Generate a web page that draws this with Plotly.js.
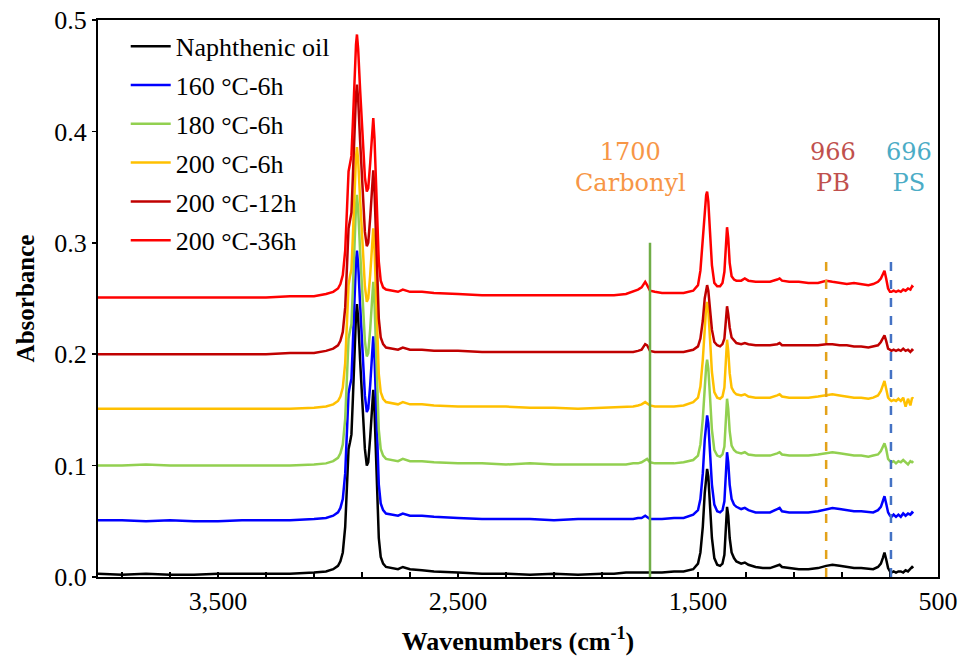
<!DOCTYPE html>
<html>
<head>
<meta charset="utf-8">
<script src="https://cdn.plot.ly/plotly-3.0.1.min.js"></script>
<style>html,body{margin:0;padding:0;background:#fff;}#chart{width:960px;height:661px;}</style>
</head>
<body>
<div id="chart"></div>
<script>
// Wavenumbers (cm-1)
const wavenumbers = [4000,3900,3800,3700,3600,3500,3400,3300,3200,3100,3050,3020,3000,2990,2980,2970,2962,2956,2950,2944,2938,2930,2925,2921,2916,2908,2898,2888,2880,2874,2866,2858,2853,2848,2842,2836,2830,2822,2812,2800,2780,2750,2730,2715,2700,2650,2600,2500,2400,2300,2200,2100,2000,1900,1850,1800,1770,1750,1735,1720,1712,1700,1680,1650,1600,1560,1520,1500,1490,1480,1472,1466,1462,1457,1450,1442,1432,1420,1408,1398,1390,1384,1379,1374,1368,1360,1350,1340,1320,1305,1290,1260,1230,1200,1170,1160,1150,1120,1080,1040,1000,966,940,910,880,850,820,790,770,750,738,730,723,716,708,700,694,685,675,665,655,645,635,625,615,608,603];

const naphthenicOil = [0.003,0.002,0.003,0.002,0.002,0.003,0.003,0.003,0.003,0.004,0.005,0.007,0.010,0.014,0.022,0.045,0.085,0.115,0.121,0.128,0.160,0.210,0.235,0.245,0.232,0.195,0.150,0.115,0.100,0.103,0.125,0.155,0.168,0.150,0.110,0.065,0.035,0.018,0.012,0.009,0.008,0.007,0.009,0.008,0.007,0.006,0.005,0.004,0.003,0.003,0.002,0.003,0.002,0.003,0.003,0.004,0.004,0.004,0.004,0.004,0.004,0.004,0.004,0.004,0.005,0.005,0.007,0.012,0.022,0.045,0.075,0.092,0.097,0.090,0.065,0.035,0.017,0.011,0.010,0.012,0.020,0.040,0.063,0.055,0.035,0.022,0.017,0.014,0.012,0.013,0.011,0.009,0.008,0.008,0.010,0.011,0.009,0.008,0.007,0.007,0.008,0.010,0.011,0.010,0.009,0.008,0.008,0.007,0.007,0.009,0.012,0.017,0.022,0.016,0.008,0.005,0.004,0.005,0.004,0.005,0.005,0.004,0.006,0.005,0.008,0.009,0.008];

const c160_6h = [0.051,0.051,0.050,0.051,0.050,0.050,0.051,0.051,0.051,0.052,0.053,0.055,0.058,0.062,0.070,0.093,0.133,0.165,0.172,0.178,0.210,0.258,0.284,0.293,0.281,0.245,0.200,0.163,0.148,0.151,0.172,0.203,0.216,0.198,0.158,0.113,0.083,0.066,0.060,0.057,0.056,0.055,0.057,0.056,0.055,0.055,0.054,0.053,0.052,0.052,0.052,0.051,0.052,0.052,0.052,0.052,0.052,0.053,0.053,0.055,0.054,0.052,0.052,0.052,0.053,0.053,0.056,0.060,0.070,0.093,0.123,0.140,0.145,0.138,0.113,0.083,0.065,0.059,0.058,0.060,0.068,0.088,0.112,0.103,0.083,0.070,0.065,0.063,0.061,0.062,0.060,0.058,0.058,0.058,0.061,0.062,0.059,0.058,0.058,0.058,0.059,0.061,0.062,0.061,0.060,0.059,0.059,0.058,0.058,0.060,0.063,0.068,0.0725,0.066,0.058,0.055,0.054,0.056,0.054,0.056,0.054,0.057,0.055,0.057,0.056,0.058,0.057];

const c180_6h = [0.100,0.100,0.101,0.100,0.100,0.100,0.100,0.100,0.100,0.101,0.102,0.104,0.107,0.111,0.119,0.142,0.182,0.214,0.221,0.227,0.259,0.308,0.333,0.343,0.330,0.293,0.248,0.212,0.198,0.201,0.222,0.252,0.265,0.247,0.207,0.162,0.132,0.115,0.109,0.106,0.105,0.104,0.106,0.105,0.104,0.104,0.103,0.102,0.102,0.101,0.102,0.101,0.101,0.101,0.101,0.101,0.102,0.102,0.103,0.105,0.106,0.103,0.102,0.102,0.102,0.103,0.105,0.109,0.119,0.142,0.172,0.189,0.195,0.187,0.162,0.132,0.114,0.109,0.108,0.110,0.117,0.137,0.160,0.151,0.131,0.118,0.114,0.112,0.111,0.112,0.110,0.109,0.109,0.109,0.111,0.112,0.110,0.109,0.109,0.109,0.110,0.111,0.112,0.111,0.110,0.109,0.109,0.108,0.109,0.110,0.113,0.117,0.120,0.115,0.106,0.104,0.103,0.104,0.102,0.104,0.103,0.105,0.103,0.101,0.104,0.103,0.104];

const c200_6h = [0.151,0.151,0.151,0.151,0.151,0.151,0.151,0.151,0.151,0.152,0.153,0.155,0.158,0.162,0.170,0.192,0.232,0.262,0.270,0.276,0.306,0.354,0.377,0.386,0.374,0.340,0.296,0.261,0.247,0.250,0.271,0.300,0.313,0.296,0.256,0.212,0.182,0.166,0.160,0.157,0.156,0.155,0.157,0.156,0.155,0.155,0.154,0.153,0.153,0.153,0.152,0.152,0.151,0.152,0.152,0.153,0.153,0.154,0.155,0.157,0.156,0.154,0.153,0.153,0.153,0.154,0.157,0.161,0.171,0.195,0.226,0.242,0.247,0.239,0.214,0.184,0.166,0.161,0.160,0.162,0.170,0.190,0.213,0.203,0.183,0.170,0.166,0.164,0.163,0.164,0.162,0.161,0.161,0.161,0.163,0.164,0.162,0.161,0.161,0.161,0.162,0.163,0.164,0.163,0.162,0.161,0.161,0.160,0.161,0.163,0.167,0.172,0.176,0.169,0.161,0.159,0.158,0.159,0.158,0.160,0.158,0.161,0.153,0.160,0.154,0.161,0.160];

const c200_12h = [0.200,0.200,0.200,0.200,0.200,0.200,0.200,0.200,0.201,0.201,0.203,0.205,0.208,0.212,0.220,0.242,0.282,0.313,0.320,0.327,0.360,0.410,0.433,0.442,0.429,0.392,0.347,0.310,0.297,0.300,0.322,0.352,0.365,0.347,0.307,0.262,0.232,0.215,0.209,0.206,0.205,0.204,0.206,0.205,0.204,0.204,0.203,0.203,0.202,0.202,0.202,0.202,0.202,0.202,0.202,0.202,0.202,0.203,0.204,0.209,0.208,0.203,0.202,0.202,0.202,0.202,0.204,0.207,0.214,0.230,0.250,0.259,0.262,0.257,0.240,0.222,0.211,0.208,0.207,0.209,0.214,0.228,0.243,0.236,0.224,0.215,0.212,0.210,0.209,0.210,0.209,0.208,0.208,0.208,0.209,0.210,0.208,0.208,0.208,0.208,0.208,0.209,0.209,0.208,0.208,0.207,0.207,0.206,0.207,0.208,0.211,0.214,0.217,0.212,0.205,0.204,0.203,0.204,0.203,0.204,0.203,0.205,0.203,0.204,0.202,0.204,0.203];

const c200_36h = [0.251,0.251,0.251,0.251,0.251,0.251,0.251,0.251,0.252,0.252,0.254,0.256,0.259,0.263,0.271,0.293,0.333,0.364,0.371,0.378,0.408,0.457,0.478,0.487,0.474,0.438,0.395,0.359,0.346,0.349,0.371,0.400,0.412,0.394,0.356,0.312,0.283,0.266,0.260,0.258,0.257,0.256,0.258,0.257,0.256,0.256,0.255,0.254,0.253,0.253,0.253,0.253,0.253,0.253,0.253,0.254,0.256,0.258,0.260,0.265,0.262,0.257,0.256,0.255,0.255,0.255,0.257,0.262,0.275,0.305,0.332,0.343,0.346,0.337,0.310,0.280,0.264,0.261,0.261,0.264,0.274,0.295,0.314,0.304,0.282,0.270,0.267,0.266,0.266,0.268,0.266,0.265,0.265,0.265,0.267,0.268,0.266,0.265,0.265,0.264,0.264,0.266,0.265,0.264,0.263,0.264,0.263,0.262,0.263,0.265,0.268,0.272,0.275,0.268,0.259,0.256,0.256,0.257,0.256,0.257,0.256,0.258,0.257,0.259,0.258,0.261,0.260];

const seriesNames = ["Naphthenic oil","160 °C-6h","180 °C-6h","200 °C-6h","200 °C-12h","200 °C-36h"];
const seriesValues = [naphthenicOil, c160_6h, c180_6h, c200_6h, c200_12h, c200_36h];
const seriesColors = ["#000000","#0000FF","#92D050","#FFC000","#C00000","#FF0000"];

// Marker lines: wavenumber, top absorbance, colour, dash
const markerWN = [1700, 966, 696];
const markerTop = [0.30, 0.29, 0.29];
const markerColors = ["#70AD47","#E3A21A","#4472C4"];
const markerDash = ["solid","dash","dash"];
const markerLabels = ["1700<br>Carbonyl","966<br>PB","696<br>PS"];
const markerLabelWN = [1780, 936, 619];
const markerLabelColors = ["#F79646","#C0504D","#4BACC6"];

const SERIF = "'Liberation Serif', 'Times New Roman', Times, 'DejaVu Serif', serif";
const LABELSERIF = "'DejaVu Serif', 'Liberation Serif', serif";

const traces = seriesNames.map((n, i) => ({
  x: wavenumbers, y: seriesValues[i], type: "scatter", mode: "lines", name: n,
  legendgroup: "g" + i,
  line: {color: seriesColors[i], width: 2.5}
}));

const shapes = markerWN.map((w, i) => ({
  type: "line", xref: "x", yref: "y", x0: w, x1: w, y0: 0, y1: markerTop[i],
  line: {color: markerColors[i], width: 2.5, dash: markerDash[i]}
}));

const annotations = markerLabels.map((t, i) => ({
  x: markerLabelWN[i], y: 0.368, xref: "x", yref: "y", text: t, showarrow: false,
  font: {family: LABELSERIF, size: 24, color: markerLabelColors[i]},
  align: "center"
}));

const layout = {
  width: 960, height: 661,
  margin: {l: 98, r: 22, t: 20, b: 84},
  paper_bgcolor: "#fff", plot_bgcolor: "#fff",
  font: {family: SERIF, size: 26, color: "#000"},
  showlegend: true,
  legend: {x: 0.033, y: 0.995, xanchor: "left", yanchor: "top", bgcolor: "rgba(0,0,0,0)",
           itemwidth: 40,
           font: {family: SERIF, size: 26, color: "#000"}, tracegroupgap: 2},
  xaxis: {
    range: [4000, 500], autorange: false,
    tickmode: "linear", tick0: 500, dtick: 1000, tickformat: ",d",
    ticks: "inside", ticklen: 5, tickwidth: 1.5, tickcolor: "#000",
    minor: {dtick: 200, tick0: 500, ticks: "inside", ticklen: 5, tickwidth: 1.5, tickcolor: "#000", showgrid: false},
    showline: true, linecolor: "#000", linewidth: 2, mirror: true,
    showgrid: false, zeroline: false,
    tickfont: {family: SERIF, size: 26, color: "#000"},
    title: {text: "<b>Wavenumbers (cm<sup>-1</sup>)</b>", font: {family: SERIF, size: 26, color: "#000"}, standoff: 17}
  },
  yaxis: {
    range: [0, 0.5], autorange: false, dtick: 0.1, tickformat: ".1f",
    ticks: "outside", ticklen: 4, tickwidth: 1.5, tickcolor: "#000",
    showline: true, linecolor: "#000", linewidth: 2, mirror: true,
    showgrid: false, zeroline: false,
    tickfont: {family: SERIF, size: 26, color: "#000"},
    title: {text: "<b>Absorbance</b>", font: {family: SERIF, size: 25, color: "#000"}, standoff: 13}
  },
  shapes: shapes,
  annotations: annotations
};

Plotly.newPlot("chart", traces, layout, {displayModeBar: false, staticPlot: true});
</script>
</body>
</html>
